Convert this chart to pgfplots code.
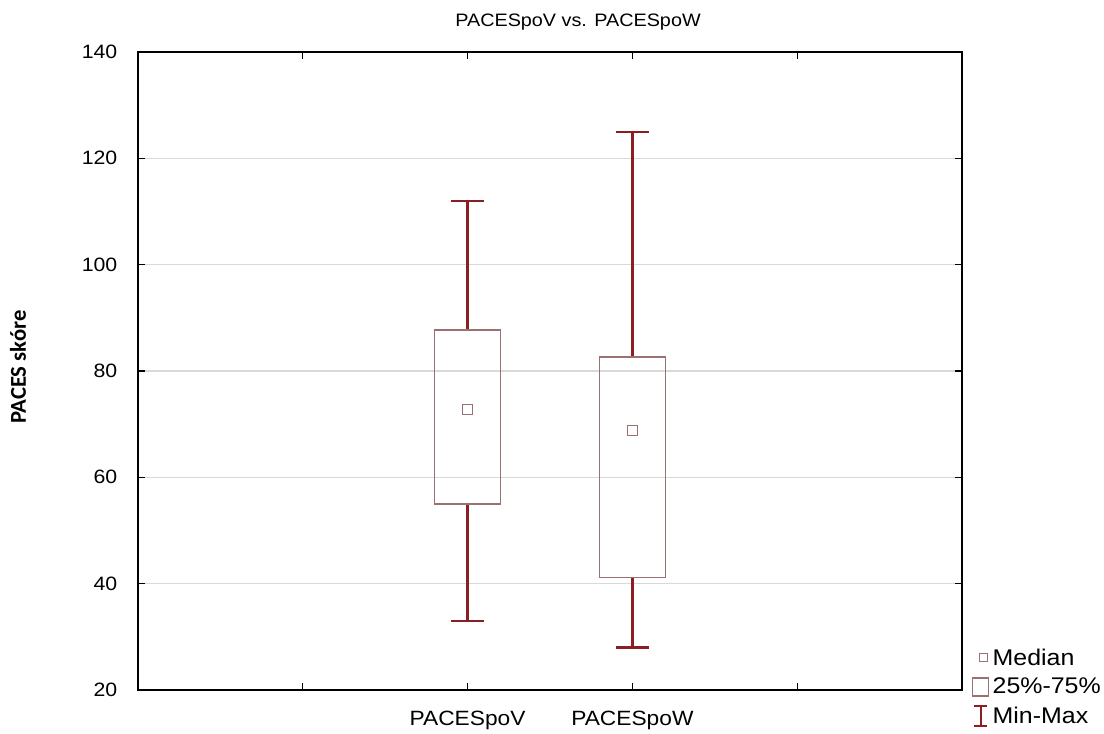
\documentclass[border=0pt]{standalone}
\usepackage{fontspec}
\setmainfont{Liberation Sans}[FakeStretch=1.1]
\newfontfamily\calibri{Carlito}
\usepackage{pgfplots}
\pgfplotsset{compat=1.18}
\usepgfplotslibrary{statistics}
\definecolor{whisk}{RGB}{139,30,35}
\definecolor{boxc}{RGB}{155,112,112}
\begin{document}
\begin{tikzpicture}
\begin{axis}[
  scale only axis, width=618pt, height=478.5pt,
  xmin=0, xmax=5, ymin=20, ymax=140,
  xtick={1,2,3,4}, xticklabels={,PACESpoV,PACESpoW,},
  ytick={20,40,...,140},
  ymajorgrids, grid style={draw=black!15, line width=1pt},
  axis line style={line width=1.3pt},
  tick align=inside, major tick length=5pt, tick style={black, line width=0.8pt},
  /pgf/number format/assume math mode=true,
  yticklabel style={font=\fontsize{14.5}{16}\selectfont, xshift=-12pt},
  xticklabel style={font=\fontsize{15.5}{18}\selectfont, yshift=-12pt},
  clip=false,
  boxplot/draw direction=y,
  boxplot/box extend=0.4,
  boxplot/whisker extend=0.2,
  boxplot/every box/.style={draw=boxc, line width=1pt},
  boxplot/every whisker/.style={draw=whisk, line width=1.8pt},
  boxplot/draw/median/.code={\node[draw=boxc, line width=0.9pt, fill=white, inner sep=0pt, minimum size=7.5pt, anchor=center] at (boxplot cs:\pgfplotsboxplotvalue{median}) {};},
  legend style={at={(rel axis cs:1.012,0.068)}, anchor=north west, draw=none, fill=none, inner sep=0pt, row sep=5.5pt, font=\fontsize{17}{19}\selectfont, nodes={inner sep=0.5pt}, /tikz/every odd column/.append style={column sep=2pt}},
  legend cell align=left,
]
\addlegendimage{legend image code/.code={\draw[white, opacity=0] (0,-8pt) rectangle (12pt,8pt); \node[draw=boxc, line width=0.9pt, inner sep=0pt, minimum size=6pt, anchor=center] at (8pt,0) {};}}
\addlegendentry{Median}
\addlegendimage{legend image code/.code={\draw[white, opacity=0] (0,-8pt) rectangle (12pt,8pt); \draw[boxc, line width=0.9pt] (0,-6.8pt) rectangle (12pt,6.8pt);}}
\addlegendentry{25\%-75\%}
\addlegendimage{legend image code/.code={\draw[white, opacity=0] (0,-8pt) rectangle (12pt,8pt); \draw[whisk, line width=1.2pt] (6pt,-7.5pt)--(6pt,7.5pt) (1pt,7.5pt)--(11pt,7.5pt) (1pt,-7.5pt)--(11pt,-7.5pt);}}
\addlegendentry{Min-Max}

\addplot[boxplot prepared={lower whisker=33, lower quartile=55, median=72.8, upper quartile=87.7, upper whisker=112, draw position=2}] coordinates {};
\addplot[boxplot prepared={lower whisker=28, lower quartile=41.2, median=68.8, upper quartile=82.6, upper whisker=125, draw position=3}] coordinates {};

\node[font=\fontsize{13.5}{16}\selectfont] at (rel axis cs:0.534,1.047) {PACESpoV vs. PACESpoW};
\node[rotate=90, font=\calibri\bfseries\fontsize{17}{19}\selectfont] at (rel axis cs:-0.1456,0.506) {PACES skóre};
\path (rel axis cs:-0.16748,-0.05799) rectangle (rel axis cs:1.17233,1.0815);
\end{axis}
\end{tikzpicture}
\end{document}
